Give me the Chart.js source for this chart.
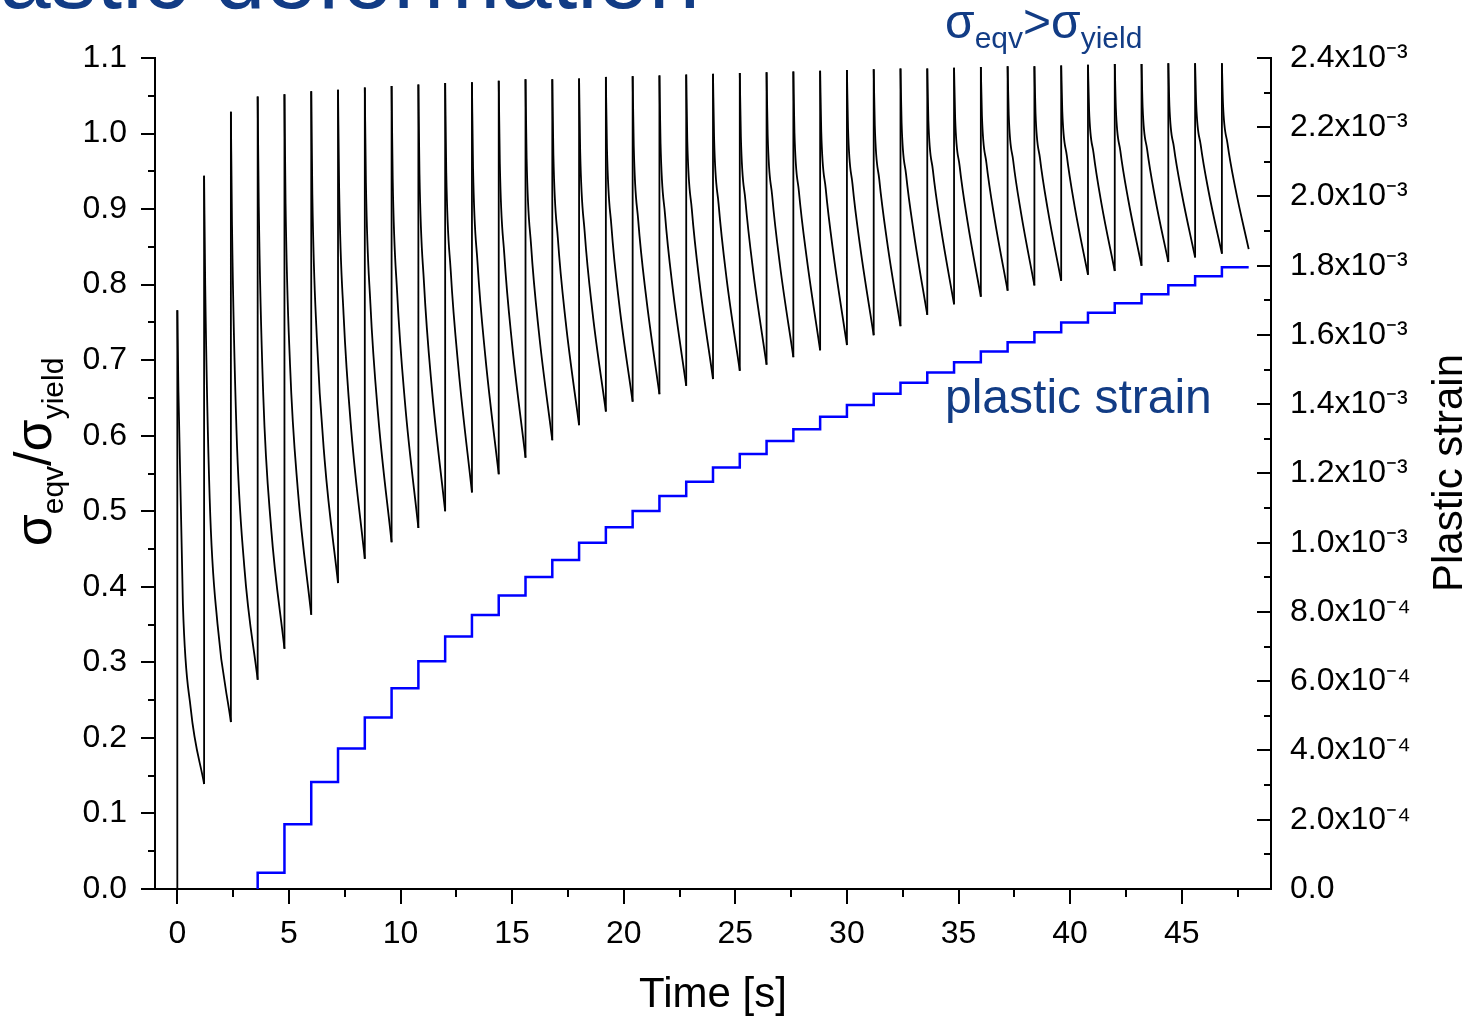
<!DOCTYPE html>
<html lang="en">
<head>
<meta charset="UTF-8">
<title>Plastic deformation</title>
<style>
  html, body { margin: 0; padding: 0; background: #fff; }
  .chart-container { width: 1470px; height: 1018px; position: relative; }
</style>
</head>
<body>
<div class="chart-container"><canvas id="strainChart"></canvas></div>

<script src="https://cdn.jsdelivr.net/npm/chart.js"></script>
<script>
// start time of each load cycle [s] - the stress jumps up at each of them
const cycleStart = [0, 1.2, 2.4, 3.6, 4.8, 6.0, 7.2, 8.4, 9.6, 10.8,
  12.0, 13.2, 14.4, 15.6, 16.8, 18.0, 19.2, 20.4, 21.6, 22.8,
  24.0, 25.2, 26.4, 27.6, 28.8, 30.0, 31.2, 32.4, 33.6, 34.8,
  36.0, 37.2, 38.4, 39.6, 40.8, 42.0, 43.2, 44.4, 45.6, 46.8];
const endTime = 48;

// sigma_eqv/sigma_yield at the top of each spike
const peakValues = [0.766, 0.944, 1.029, 1.049, 1.052, 1.056, 1.058, 1.061, 1.063, 1.065,
  1.067, 1.068, 1.070, 1.072, 1.072, 1.073, 1.075, 1.076, 1.077, 1.078,
  1.079, 1.080, 1.081, 1.082, 1.083, 1.084, 1.085, 1.086, 1.086, 1.087,
  1.088, 1.089, 1.089, 1.090, 1.091, 1.092, 1.092, 1.093, 1.093, 1.093];

// relaxation curve of each cycle, read at 0.05 s, 0.25 s and 0.6 s after the spike
const decayOffsets = [0.05, 0.25, 0.6];
const decayAt005 = [0.659, 0.799, 0.879, 0.903, 0.907, 0.919, 0.928, 0.935, 0.940, 0.946,
  0.948, 0.954, 0.960, 0.967, 0.971, 0.976, 0.980, 0.983, 0.987, 0.989,
  0.993, 0.995, 0.998, 1.001, 1.003, 1.007, 1.010, 1.014, 1.017, 1.020,
  1.023, 1.025, 1.027, 1.029, 1.031, 1.033, 1.034, 1.036, 1.038, 1.039];
const decayAt025 = [0.377, 0.517, 0.608, 0.654, 0.694, 0.730, 0.760, 0.775, 0.789, 0.803,
  0.818, 0.829, 0.840, 0.852, 0.861, 0.870, 0.877, 0.885, 0.893, 0.900,
  0.907, 0.912, 0.918, 0.923, 0.927, 0.933, 0.939, 0.946, 0.952, 0.957,
  0.961, 0.964, 0.967, 0.971, 0.974, 0.977, 0.979, 0.982, 0.985, 0.987];
const decayAt060 = [0.239, 0.351, 0.427, 0.479, 0.528, 0.568, 0.605, 0.626, 0.644, 0.664,
  0.688, 0.705, 0.721, 0.737, 0.751, 0.764, 0.774, 0.785, 0.794, 0.802,
  0.810, 0.818, 0.826, 0.835, 0.840, 0.849, 0.857, 0.868, 0.877, 0.884,
  0.890, 0.895, 0.899, 0.904, 0.908, 0.913, 0.916, 0.921, 0.924, 0.928];

// value at the end of each cycle (just before the next spike)
const troughValues = [0.139, 0.221, 0.277, 0.318, 0.363, 0.405, 0.437, 0.459, 0.478, 0.500,
  0.525, 0.549, 0.571, 0.594, 0.614, 0.632, 0.645, 0.655, 0.666, 0.675,
  0.686, 0.694, 0.704, 0.713, 0.720, 0.733, 0.745, 0.760, 0.774, 0.784,
  0.792, 0.799, 0.805, 0.813, 0.818, 0.825, 0.830, 0.836, 0.841, 0.847];

// plastic strain steps
const strainTimes = [3.6, 4.8, 6.0, 7.2, 8.4, 9.6, 10.8, 12.0, 13.2, 14.4,
  15.6, 16.8, 18.0, 19.2, 20.4, 21.6, 22.8, 24.0, 25.2, 26.4,
  27.6, 28.8, 30.0, 31.2, 32.4, 33.6, 34.8, 36.0, 37.2, 38.4,
  39.6, 40.8, 42.0, 43.2, 44.4, 45.6, 46.8];
const strainValues = [4.7e-5, 1.87e-4, 3.09e-4, 4.06e-4, 4.95e-4, 5.80e-4, 6.58e-4, 7.29e-4, 7.91e-4, 8.48e-4,
  9.01e-4, 9.50e-4, 1.000e-3, 1.045e-3, 1.092e-3, 1.135e-3, 1.176e-3, 1.217e-3, 1.256e-3, 1.294e-3,
  1.328e-3, 1.364e-3, 1.398e-3, 1.430e-3, 1.462e-3, 1.492e-3, 1.521e-3, 1.552e-3, 1.579e-3, 1.608e-3,
  1.636e-3, 1.664e-3, 1.692e-3, 1.718e-3, 1.744e-3, 1.770e-3, 1.796e-3];

// axes
const xTicks = [0, 5, 10, 15, 20, 25, 30, 35, 40, 45];
const leftTicks = [0, 0.1, 0.2, 0.3, 0.4, 0.5, 0.6, 0.7, 0.8, 0.9, 1.0, 1.1];
const rightTicks = [0, 2e-4, 4e-4, 6e-4, 8e-4, 1e-3, 1.2e-3, 1.4e-3, 1.6e-3, 1.8e-3, 2.0e-3, 2.2e-3, 2.4e-3];
const rightTickLabels = ['0.0', '2.0x10\u207B\u2074', '4.0x10\u207B\u2074', '6.0x10\u207B\u2074', '8.0x10\u207B\u2074',
  '1.0x10\u207B\u00B3', '1.2x10\u207B\u00B3', '1.4x10\u207B\u00B3', '1.6x10\u207B\u00B3', '1.8x10\u207B\u00B3',
  '2.0x10\u207B\u00B3', '2.2x10\u207B\u00B3', '2.4x10\u207B\u00B3'];

const FONT = "'Liberation Sans', Arial, sans-serif";
const NAVY = '#123c85';

// build line data
const decayPoints = [];
const jumpPoints = [];
cycleStart.forEach((t0, k) => {
  const t1 = k < cycleStart.length - 1 ? cycleStart[k + 1] : endTime;
  const from = k === 0 ? 0 : troughValues[k - 1];
  jumpPoints.push({x: t0, y: from}, {x: t0, y: peakValues[k]}, {x: t0, y: null});
  decayPoints.push({x: t0, y: peakValues[k]});
  decayPoints.push({x: t0 + decayOffsets[0], y: decayAt005[k]});
  decayPoints.push({x: t0 + decayOffsets[1], y: decayAt025[k]});
  decayPoints.push({x: t0 + decayOffsets[2], y: decayAt060[k]});
  decayPoints.push({x: t1, y: troughValues[k]});
  decayPoints.push({x: t1, y: null});
});

const strainPoints = [{x: strainTimes[0], y: 0}];
strainTimes.forEach((t, i) => strainPoints.push({x: t, y: strainValues[i]}));
strainPoints.push({x: endTime, y: strainValues[strainValues.length - 1]});

// text with subscripts, e.g. sigma_eqv
function drawSubText(ctx, parts, x, y, size, subSize, shift, align) {
  let total = 0;
  parts.forEach(p => {
    ctx.font = (p.sub ? subSize : size) + 'px ' + FONT;
    p.w = ctx.measureText(p.t).width;
    total += p.w;
  });
  let cx = align === 'center' ? x - total / 2 : x;
  ctx.textAlign = 'left';
  ctx.textBaseline = 'alphabetic';
  parts.forEach(p => {
    ctx.font = (p.sub ? subSize : size) + 'px ' + FONT;
    ctx.fillText(p.t, cx, p.sub ? y + shift : y);
    cx += p.w;
  });
}

const decorPlugin = {
  id: 'decor',
  afterDraw(chart) {
    const {ctx, chartArea: a, scales: {x, y, y1}} = chart;
    ctx.save();

    // tick marks (major + minor)
    ctx.strokeStyle = '#000';
    ctx.lineWidth = 2;
    ctx.beginPath();
    for (let i = 0; i <= 22; i++) {
      const py = Math.round(y.getPixelForValue(i * 0.05));
      const len = i % 2 === 0 ? 14 : 7;
      ctx.moveTo(a.left - len, py); ctx.lineTo(a.left, py);
    }
    for (let i = 0; i <= 19; i++) {
      const px = Math.round(x.getPixelForValue(i * 2.5));
      const len = i % 2 === 0 ? 15 : 8;
      ctx.moveTo(px, a.bottom); ctx.lineTo(px, a.bottom + len);
    }
    for (let i = 0; i <= 24; i++) {
      const py = Math.round(y1.getPixelForValue(i * 1e-4));
      const len = i % 2 === 0 ? 14 : 7;
      ctx.moveTo(a.right - len, py); ctx.lineTo(a.right, py);
    }
    ctx.stroke();

    // slide title, cut off at the top
    ctx.fillStyle = NAVY;
    ctx.font = '92px ' + FONT;
    ctx.textAlign = 'right';
    ctx.textBaseline = 'alphabetic';
    ctx.fillText('Plastic deformation', 700, 8);

    // left axis title
    ctx.fillStyle = '#000';
    ctx.save();
    ctx.translate(51, 452);
    ctx.rotate(-Math.PI / 2);
    drawSubText(ctx, [{t: '\u03C3'}, {t: 'eqv', sub: true}, {t: '/'}, {t: '\u03C3'}, {t: 'yield', sub: true}],
      0, 0, 52, 30, 12, 'center');
    ctx.restore();

    // right axis title
    ctx.save();
    ctx.translate(1462, 473);
    ctx.rotate(-Math.PI / 2);
    ctx.font = '42px ' + FONT;
    ctx.textAlign = 'center';
    ctx.textBaseline = 'alphabetic';
    ctx.fillText('Plastic strain', 0, 0);
    ctx.restore();

    // annotations
    ctx.fillStyle = NAVY;
    drawSubText(ctx, [{t: '\u03C3'}, {t: 'eqv', sub: true}, {t: '>'}, {t: '\u03C3'}, {t: 'yield', sub: true}],
      945, 38, 48, 30, 10, 'left');
    ctx.font = '48px ' + FONT;
    ctx.textAlign = 'left';
    ctx.fillText('plastic strain', 945, 413);

    ctx.restore();
  }
};

Chart.defaults.font.family = FONT;
Chart.defaults.color = '#000';

new Chart(document.getElementById('strainChart'), {
  type: 'line',
  data: {
    datasets: [
      {
        label: 'stress relaxation',
        data: decayPoints,
        yAxisID: 'y',
        borderColor: '#000',
        borderWidth: 1.8,
        pointRadius: 0,
        cubicInterpolationMode: 'monotone',
        spanGaps: false
      },
      {
        label: 'stress jumps',
        data: jumpPoints,
        yAxisID: 'y',
        borderColor: '#000',
        borderWidth: 1.8,
        pointRadius: 0,
        tension: 0,
        spanGaps: false
      },
      {
        label: 'plastic strain',
        data: strainPoints,
        yAxisID: 'y1',
        borderColor: '#0000ff',
        borderWidth: 2.5,
        pointRadius: 0,
        stepped: true
      }
    ]
  },
  options: {
    responsive: true,
    maintainAspectRatio: false,
    animation: false,
    layout: { padding: { top: 58, left: 0, right: 0, bottom: 0 } },
    plugins: { legend: { display: false }, tooltip: { enabled: false } },
    scales: {
      x: {
        type: 'linear',
        min: -1,
        max: 49,
        afterBuildTicks: s => { s.ticks = xTicks.map(v => ({ value: v })); },
        afterFit: s => { s.height = 129; },
        grid: { display: false, drawTicks: false },
        border: { display: true, color: '#000', width: 2 },
        ticks: { font: { size: 32 }, color: '#000', padding: 26, maxRotation: 0 },
        title: { display: true, text: 'Time [s]', font: { size: 42, lineHeight: 1 }, color: '#000', padding: { top: 0, bottom: 2 } }
      },
      y: {
        type: 'linear',
        position: 'left',
        min: 0,
        max: 1.1,
        afterBuildTicks: s => { s.ticks = leftTicks.map(v => ({ value: v })); },
        afterFit: s => { s.width = 155; },
        grid: { display: false, drawTicks: false },
        border: { display: true, color: '#000', width: 2 },
        ticks: { font: { size: 32 }, color: '#000', padding: 28, callback: v => v.toFixed(1) }
      },
      y1: {
        type: 'linear',
        position: 'right',
        min: 0,
        max: 2.4e-3,
        afterBuildTicks: s => { s.ticks = rightTicks.map(v => ({ value: v })); },
        afterFit: s => { s.width = 199; },
        grid: { display: false, drawTicks: false },
        border: { display: true, color: '#000', width: 2 },
        ticks: { font: { size: 32 }, color: '#000', padding: 19, callback: (v, i) => rightTickLabels[i] }
      }
    }
  },
  plugins: [decorPlugin]
});
</script>
</body>
</html>
